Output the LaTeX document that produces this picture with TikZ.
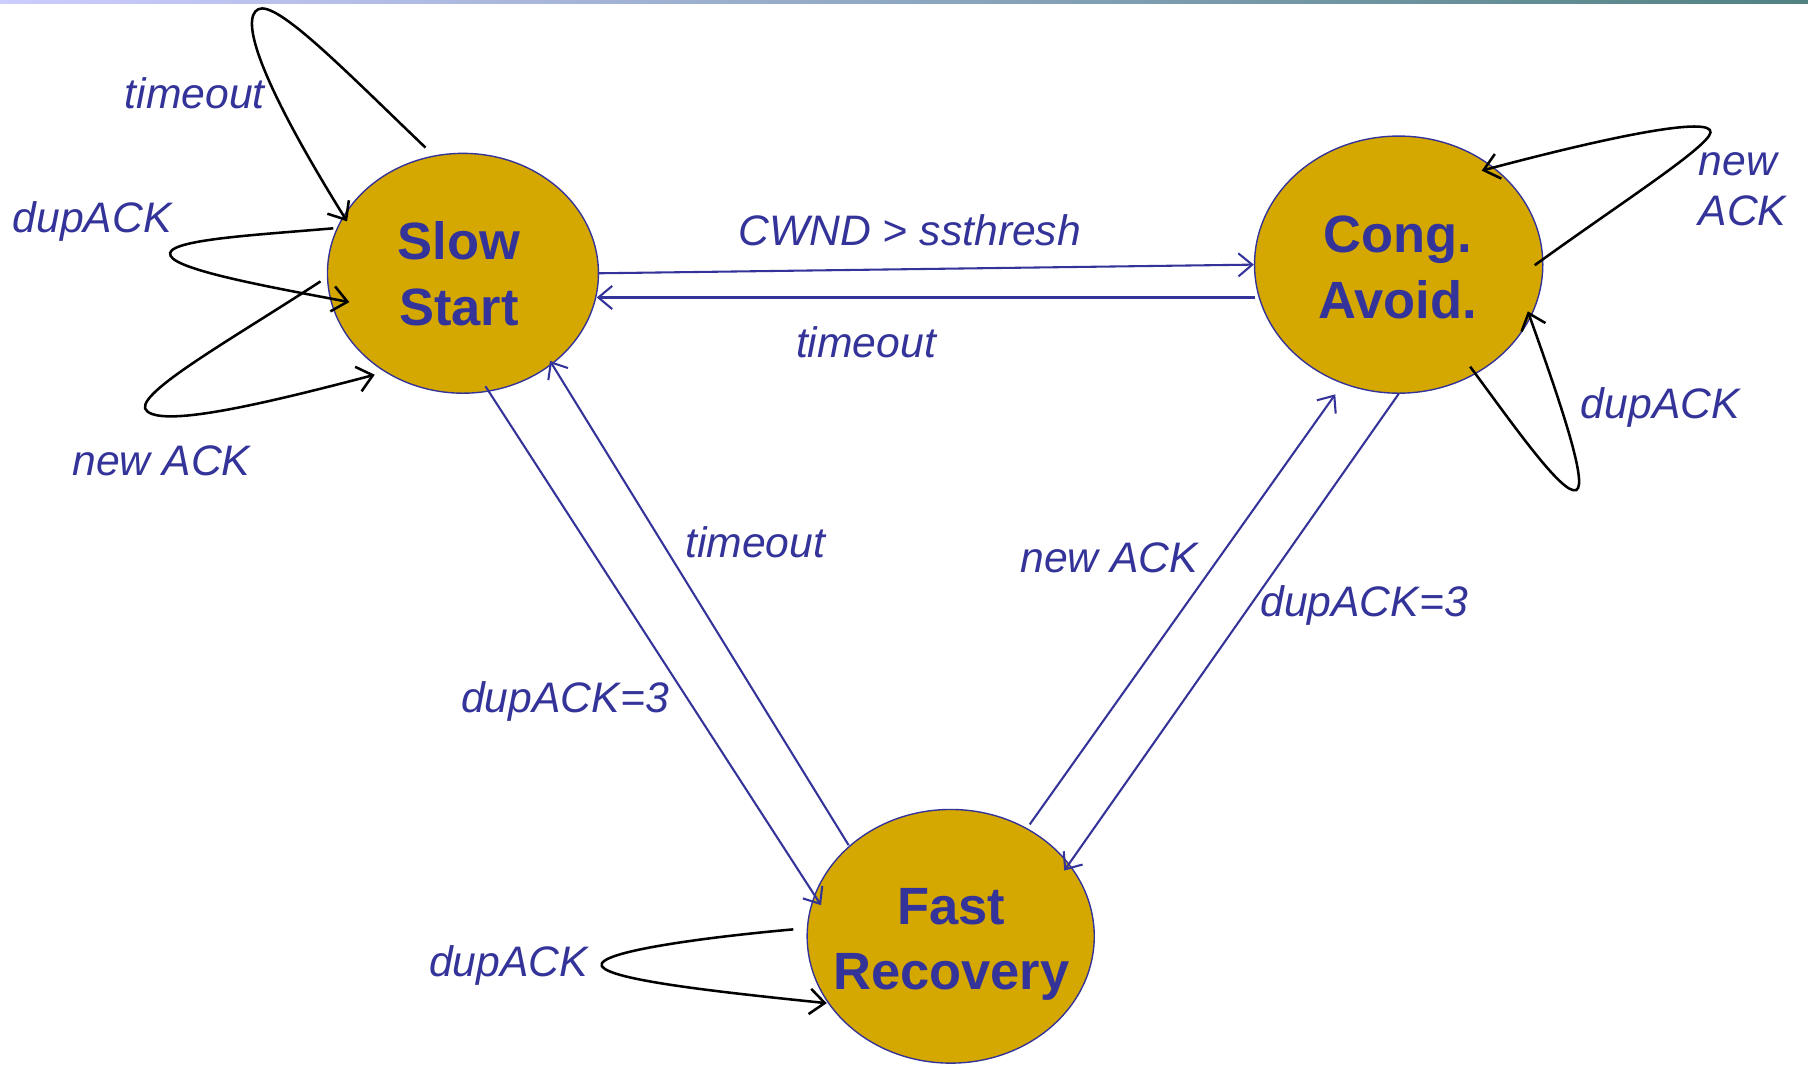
\documentclass[tikz,border=0pt]{standalone}
\usepackage{fontspec}
\setmainfont{Liberation Sans}
\usetikzlibrary{arrows.meta,calc,shapes.geometric}
\definecolor{lblue}{RGB}{51,51,153}
\definecolor{gold}{RGB}{212,168,0}
\definecolor{barL}{RGB}{204,204,255}
\definecolor{barM}{RGB}{175,185,225}
\definecolor{barR}{RGB}{80,130,130}
\begin{document}
\begin{tikzpicture}[x=1pt,y=-1pt,
  state/.style={ellipse,draw=lblue,line width=1.2pt,fill=gold,inner sep=0pt},
  stext/.style={text=lblue,font=\fontsize{45.5}{57}\selectfont\bfseries,align=center,inner sep=0pt},
  lab/.style={text=lblue,font=\fontsize{37}{43}\selectfont\itshape,inner sep=0pt},
  tr/.style={draw=lblue,line width=1.8pt,-{Straight Barb[length=12pt,width=20pt]}},
  lp/.style={draw=black,line width=2.2pt,-{Straight Barb[length=13pt,width=22pt]}}]
\useasboundingbox (0,0) rectangle (1568,924);
\shade[left color=barL,middle color=barM,right color=barR] (0,0) rectangle (1568,2.6);

% states
\node[state,minimum width=235pt,minimum height=208pt] (ss) at (401.5,237) {};
\node[state,minimum width=250pt,minimum height=223pt] (ca) at (1213,229.5) {};
\node[state,minimum width=249pt,minimum height=220pt] (fr) at (824.5,812) {};
\node[stext] (sst) at (398,237.5) {Slow\\Start};
\node[stext] (cat) at (1212,232) {Cong.\\Avoid.};
\node[stext] (frt) at (825,819) {Fast\\Recovery};

% transitions between states
\draw[tr] (ss.east) -- (ca.west);
\draw[tr] ($(ca)+(-125,28.5)$) -- ($(ss)+(116,21)$);
\draw[tr] ($(ss)+(19.5,98)$) -- ($(fr)+(-112.5,-27)$);
\draw[tr] ($(fr)+(-88.5,-79)$) -- ($(ss)+(75.5,76)$);
\draw[tr] ($(fr)+(68.5,-97)$) -- ($(ca)+(-55,112.5)$);
\draw[tr] (ca.south) -- ($(fr)+(98.5,-57)$);

% self loops
\draw[lp] ($(ss)+(-32.5,-109)$) .. controls (300,62) and (240,0) .. (224,8)
          .. controls (208,16) and (225,70) .. ($(ss)+(-100.5,-45)$);
\draw[lp] ($(ss)+(-112.5,-39)$) .. controls (220,204) and (140,208) .. (148,222)
          .. controls (155,235) and (240,250) .. ($(ss)+(-98.5,25)$);
\draw[lp] ($(ss)+(-123.5,7)$) .. controls (200,295) and (110,345) .. (128,357)
          .. controls (145,370) and (230,350) .. ($(ss)+(-76.5,88)$);
\draw[lp] ($(ca)+(118,0.5)$) .. controls (1400,180) and (1470,135) .. (1482,118)
          .. controls (1495,100) and (1420,112) .. ($(ca)+(72,-81.5)$);
\draw[lp] ($(ca)+(62,88.5)$) .. controls (1310,365) and (1355,430) .. (1367,425)
          .. controls (1378,420) and (1350,340) .. ($(ca)+(112,40.5)$);
\draw[lp] ($(fr)+(-136.5,-6)$) .. controls (620,812) and (515,825) .. (522,838)
          .. controls (530,850) and (620,860) .. ($(fr)+(-107.5,58)$);

% labels
\node[lab] (l1) at (789,200) {CWND > ssthresh};
\node[lab] (l2) at (751,297) {timeout};
\node[lab] (l3) at (655,470) {timeout};
\node[lab] (l4) at (490,608) {dupACK=3};
\node[lab] (l5) at (962,484) {new ACK};
\node[lab] (l6) at (1183,525) {dupACK=3};
\node[lab] (l7) at (169,81) {timeout};
\node[lab] (l8) at (80,192) {dupACK};
\node[lab] (l9) at (140,400) {new ACK};
\node[lab,anchor=west,align=left] (l10) at (1473,164) {new\\ACK};
\node[lab] (l11) at (1440,353) {dupACK};
\node[lab] (l12) at (441,837) {dupACK};
\end{tikzpicture}
\end{document}
